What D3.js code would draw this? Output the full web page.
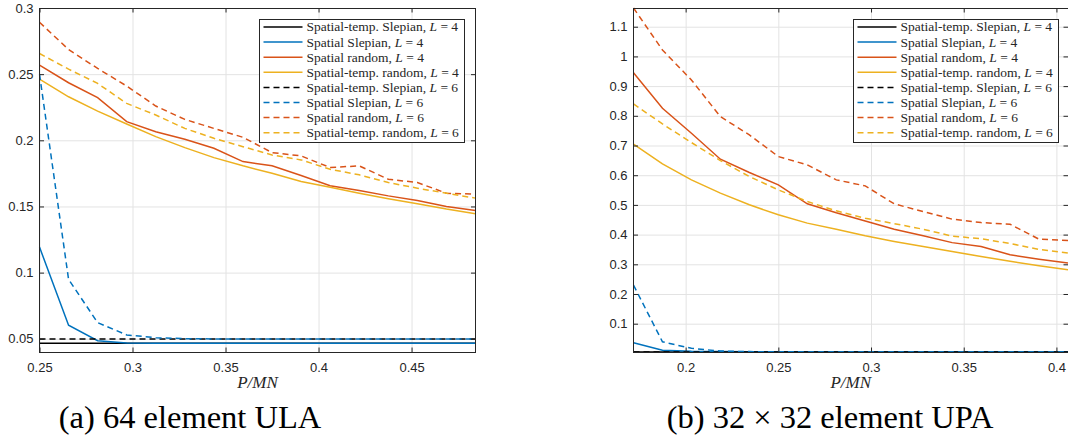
<!DOCTYPE html>
<html>
<head>
<meta charset="utf-8">
<script src="https://cdn.jsdelivr.net/npm/d3@7"></script>
<style>
  body { margin: 0; background: #fff; }
  .tick text { font-family: "Liberation Sans", Arial, sans-serif; font-size: 13px; fill: #262626; }
  .grid line { stroke: #e3e3e3; stroke-width: 1; }
  .axis line { stroke: #262626; }
</style>
</head>
<body>
<svg id="fig" width="1068" height="440"></svg>
<script>
// ---- data: (a) 64 element ULA
const xA = [0.25, 0.265625, 0.28125, 0.296875, 0.3125, 0.328125, 0.34375, 0.359375,
            0.375, 0.390625, 0.40625, 0.421875, 0.4375, 0.453125, 0.46875, 0.484375];
const stSlepL4A = [0.0466, 0.0466, 0.0466, 0.0466, 0.0466, 0.0466, 0.0466, 0.0466,
                   0.0466, 0.0466, 0.0466, 0.0466, 0.0466, 0.0466, 0.0466, 0.0466];
const sSlepL4A = [0.1193, 0.0602, 0.0485, 0.0468, 0.0466, 0.0466, 0.0466, 0.0466,
                  0.0466, 0.0466, 0.0466, 0.0466, 0.0466, 0.0466, 0.0466, 0.0466];
const sRandL4A = [0.2568, 0.2435, 0.2322, 0.2141, 0.2065, 0.2008, 0.194, 0.1839,
                  0.1807, 0.1734, 0.1656, 0.1621, 0.158, 0.1545, 0.150, 0.147];
const stRandL4A = [0.2462, 0.2329, 0.2221, 0.2123, 0.2028, 0.1945, 0.1869, 0.1807,
                   0.1751, 0.1688, 0.1646, 0.160, 0.1558, 0.152, 0.148, 0.1445];
const stSlepL6A = [0.0499, 0.0499, 0.0499, 0.0499, 0.0499, 0.0499, 0.0499, 0.0499,
                   0.0499, 0.0499, 0.0499, 0.0499, 0.0499, 0.0499, 0.0499, 0.0499];
const sSlepL6A = [0.25, 0.0949, 0.0622, 0.0529, 0.0508, 0.0501, 0.0499, 0.0499,
                  0.0499, 0.0499, 0.0499, 0.0499, 0.0499, 0.0499, 0.0499, 0.0499];
const sRandL6A = [0.2892, 0.2686, 0.2543, 0.241, 0.2259, 0.2158, 0.209, 0.2023,
                  0.1907, 0.1882, 0.1794, 0.1807, 0.1706, 0.1681, 0.160, 0.1593];
const stRandL6A = [0.2656, 0.2538, 0.243, 0.2279, 0.2191, 0.209, 0.2015, 0.1952,
                   0.1889, 0.1852, 0.1781, 0.1739, 0.1681, 0.1638, 0.160, 0.1563];

// ---- data: (b) 32 x 32 element UPA
const xB = [0.171875, 0.1875, 0.203125, 0.21875, 0.234375, 0.25, 0.265625, 0.28125,
            0.296875, 0.3125, 0.328125, 0.34375, 0.359375, 0.375, 0.390625, 0.40625];
const stSlepL4B = [0.005, 0.005, 0.005, 0.005, 0.005, 0.005, 0.005, 0.005,
                   0.005, 0.005, 0.005, 0.005, 0.005, 0.005, 0.005, 0.005];
const sSlepL4B = [0.036, 0.011, 0.007, 0.006, 0.0055, 0.005, 0.005, 0.005,
                  0.005, 0.005, 0.005, 0.005, 0.005, 0.005, 0.005, 0.005];
const sRandL4B = [0.9453, 0.8253, 0.7413, 0.6538, 0.609, 0.5675, 0.5036, 0.4735,
                  0.446, 0.418, 0.396, 0.373, 0.36, 0.332, 0.317, 0.304];
const stRandL4B = [0.7043, 0.6381, 0.5843, 0.5395, 0.5003, 0.4666, 0.4386, 0.418,
                   0.396, 0.377, 0.36, 0.343, 0.326, 0.31, 0.295, 0.2815];
const stSlepL6B = [0.0047, 0.0047, 0.0047, 0.0047, 0.0047, 0.0047, 0.0047, 0.0047,
                   0.0047, 0.0047, 0.0047, 0.0047, 0.0047, 0.0047, 0.0047, 0.0047];
const sSlepL6B = [0.23, 0.039, 0.017, 0.008, 0.006, 0.0055, 0.005, 0.005,
                  0.005, 0.005, 0.005, 0.005, 0.005, 0.005, 0.005, 0.005];
const sRandL6B = [1.163, 1.0215, 0.9206, 0.7973, 0.7357, 0.6628, 0.6348, 0.5843,
                  0.5641, 0.5036, 0.4775, 0.452, 0.4404, 0.435, 0.3845, 0.38];
const stRandL6B = [0.84, 0.7727, 0.7099, 0.6493, 0.5955, 0.5507, 0.5114, 0.48,
                   0.455, 0.437, 0.418, 0.395, 0.386, 0.37, 0.35, 0.338];

// ---- series labels / ticks
const seriesNames = ["Spatial-temp. Slepian, ", "Spatial Slepian, ", "Spatial random, ", "Spatial-temp. random, ",
                     "Spatial-temp. Slepian, ", "Spatial Slepian, ", "Spatial random, ", "Spatial-temp. random, "];
const seriesL = ["4", "4", "4", "4", "6", "6", "6", "6"];
const xTicksA = [0.25, 0.3, 0.35, 0.4, 0.45];
const yTicksA = [0.05, 0.1, 0.15, 0.2, 0.25, 0.3];
const yLimA = [0.04, 0.3];
const xTicksB = [0.2, 0.25, 0.3, 0.35, 0.4];
const yTicksB = [0.1, 0.2, 0.3, 0.4, 0.5, 0.6, 0.7, 0.8, 0.9, 1, 1.1];
const captionA = "(a) 64 element ULA";
const captionB = "(b) 32 × 32 element UPA";

const colors = ["#000000", "#0072BD", "#D95319", "#EDB120"];

const svg = d3.select("#fig");
svg.append("rect").attr("width", 1068).attr("height", 440).attr("fill", "#fff");

function drawPanel(cfg) {
  const w = cfg.x1 - cfg.x0, h = cfg.y1 - cfg.y0;
  const x = d3.scaleLinear().domain(d3.extent(cfg.xs)).range([0, w]);
  const y = d3.scaleLinear().domain(cfg.ylim).range([h, 0]);
  const g = svg.append("g").attr("transform", `translate(${cfg.x0},${cfg.y0})`);
  const fmt = d => String(+d.toFixed(2));

  // grid
  g.append("g").attr("class", "grid").attr("transform", `translate(0,${h})`)
    .call(d3.axisBottom(x).tickValues(cfg.xt).tickSize(h).tickFormat(""))
    .call(s => s.select(".domain").remove())
    .selectAll("line").attr("y2", -h);
  g.append("g").attr("class", "grid")
    .call(d3.axisLeft(y).tickValues(cfg.yt).tickSize(-w).tickFormat(""))
    .call(s => s.select(".domain").remove());

  // series
  const clipId = "clip" + cfg.id;
  g.append("clipPath").attr("id", clipId).append("rect")
    .attr("x", -1).attr("y", -1).attr("width", w + 2).attr("height", h + 2);
  const line = d3.line().x((d, i) => x(cfg.xs[i])).y(d => y(d));
  cfg.series.forEach((s, k) => {
    g.append("path").attr("clip-path", `url(#${clipId})`)
      .attr("d", line(s))
      .attr("fill", "none")
      .attr("stroke", colors[k % 4])
      .attr("stroke-width", 1.5)
      .attr("stroke-dasharray", k >= 4 ? "6,4" : null);
  });

  // axes, inward ticks on four sides
  const tl = 4.5;
  g.append("g").attr("class", "axis").attr("transform", `translate(0,${h})`)
    .call(d3.axisBottom(x).tickValues(cfg.xt).tickSizeInner(-tl).tickSizeOuter(0).tickPadding(10.5).tickFormat(fmt))
    .call(s => s.select(".domain").remove());
  g.append("g").attr("class", "axis")
    .call(d3.axisTop(x).tickValues(cfg.xt).tickSizeInner(-tl).tickSizeOuter(0).tickFormat(""))
    .call(s => s.select(".domain").remove());
  g.append("g").attr("class", "axis")
    .call(d3.axisLeft(y).tickValues(cfg.yt).tickSizeInner(-tl).tickSizeOuter(0).tickPadding(6).tickFormat(fmt))
    .call(s => s.select(".domain").remove());
  g.append("g").attr("class", "axis").attr("transform", `translate(${w},0)`)
    .call(d3.axisRight(y).tickValues(cfg.yt).tickSizeInner(-tl).tickSizeOuter(0).tickFormat(""))
    .call(s => s.select(".domain").remove());
  g.selectAll(".axis .tick text").attr("fill", "#262626");

  g.append("rect").attr("x", 0).attr("y", 0).attr("width", w).attr("height", h)
    .attr("fill", "none").attr("stroke", "#262626").attr("stroke-width", 1)
    .attr("shape-rendering", "crispEdges");

  // x label
  g.append("text").attr("x", w / 2).attr("y", h + 36)
    .attr("text-anchor", "middle")
    .attr("font-family", "'Liberation Serif', 'Times New Roman', serif")
    .attr("font-style", "italic").attr("font-size", 17).attr("fill", "#262626")
    .text("P/MN");

  // legend
  const lg = g.append("g").attr("transform", `translate(${cfg.legX - cfg.x0},${19 - cfg.y0})`);
  lg.append("rect").attr("width", 205).attr("height", 123)
    .attr("fill", "#fff").attr("stroke", "#262626").attr("stroke-width", 1)
    .attr("shape-rendering", "crispEdges");
  seriesNames.forEach((name, k) => {
    const yy = 8 + k * 15.1;
    lg.append("line").attr("x1", 4).attr("x2", 43).attr("y1", yy).attr("y2", yy)
      .attr("stroke", colors[k % 4]).attr("stroke-width", 1.5)
      .attr("stroke-dasharray", k >= 4 ? "6,4" : null);
    const t = lg.append("text").attr("x", 47).attr("y", yy).attr("dy", "0.33em")
      .attr("font-family", "'Liberation Serif', 'Times New Roman', serif")
      .attr("font-size", 13.5).attr("fill", "#262626");
    t.append("tspan").text(name);
    t.append("tspan").attr("font-style", "italic").text("L");
    t.append("tspan").text(" = " + seriesL[k]);
  });

  // caption
  svg.append("text").attr("x", cfg.capX).attr("y", 428)
    .attr("text-anchor", "middle")
    .attr("font-family", "'Liberation Serif', 'Times New Roman', serif")
    .attr("font-size", 32.5).attr("fill", "#000")
    .text(cfg.caption);
}

drawPanel({
  id: "A", x0: 39.5, x1: 475.5, y0: 8, y1: 352,
  xs: xA, ylim: yLimA, xt: xTicksA, yt: yTicksA,
  series: [stSlepL4A, sSlepL4A, sRandL4A, stRandL4A, stSlepL6A, sSlepL6A, sRandL6A, stRandL6A],
  legX: 259.5, capX: 190, caption: captionA
});

const allB = [stSlepL4B, sSlepL4B, sRandL4B, stRandL4B, stSlepL6B, sSlepL6B, sRandL6B, stRandL6B];
drawPanel({
  id: "B", x0: 633.5, x1: 1068, y0: 8, y1: 352,
  xs: xB, ylim: d3.extent(allB.flat()), xt: xTicksB, yt: yTicksB,
  series: allB,
  legX: 853.5, capX: 830, caption: captionB
});
</script>
</body>
</html>
